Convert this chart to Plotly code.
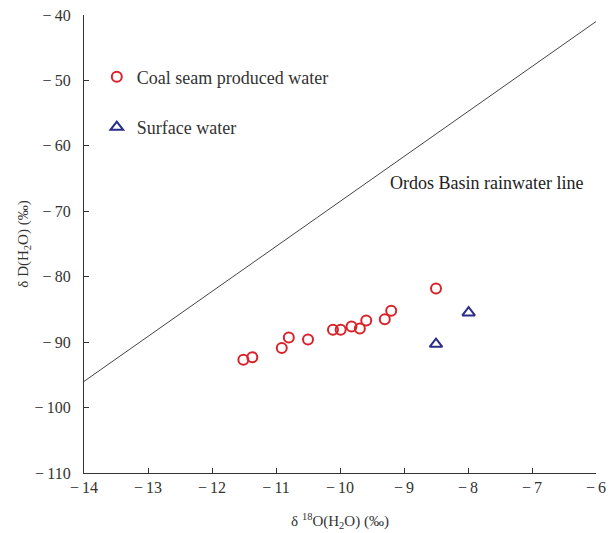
import plotly.graph_objects as go

# Data
coal_d18o = [-11.51, -11.37, -10.91, -10.80, -10.50, -10.11, -9.99, -9.82, -9.69, -9.59, -9.30, -9.20, -8.50]
coal_dd = [-92.7, -92.3, -90.9, -89.3, -89.6, -88.1, -88.1, -87.6, -87.9, -86.7, -86.5, -85.2, -81.8]

surf_d18o = [-8.50, -7.99]
surf_dd = [-90.3, -85.5]

rain_d18o = [-14, -6]
rain_dd = [-96.0, -41.0]

x_ticks = [-14, -13, -12, -11, -10, -9, -8, -7, -6]
y_ticks = [-40, -50, -60, -70, -80, -90, -100, -110]

FONT = "Liberation Serif"
AX = "#333333"

fig = go.Figure()
fig.add_trace(go.Scatter(
    x=rain_d18o, y=rain_dd, mode="lines",
    line=dict(color="#444444", width=1), showlegend=False, hoverinfo="skip"))
fig.add_trace(go.Scatter(
    x=coal_d18o, y=coal_dd, mode="markers", name="Coal seam produced water",
    legendgroup="a",
    marker=dict(symbol="circle-open", size=10, color="#d8232a", line=dict(width=2, color="#d8232a"))))
fig.add_trace(go.Scatter(
    x=surf_d18o, y=surf_dd, mode="markers", name="Surface water",
    legendgroup="b",
    marker=dict(symbol="triangle-up-open", size=11, color="#2a2d8a", line=dict(width=2, color="#2a2d8a"))))

fig.add_annotation(x=-9.25, y=-65.7, xref="x", yref="y", text="Ordos Basin rainwater line",
                   showarrow=False, xanchor="left", yanchor="middle",
                   font=dict(family=FONT, size=18, color="#222222"))

def fmt(v):
    return ("\u2212\u2009" + str(abs(v))) if v < 0 else str(v)

fig.update_xaxes(
    range=[-14, -6], tickvals=x_ticks, ticktext=[fmt(v) for v in x_ticks],
    showline=True, linecolor=AX, linewidth=1.2, ticks="inside", ticklen=5, tickcolor=AX,
    showgrid=False, zeroline=False, automargin=False,
    tickfont=dict(family=FONT, size=16, color="#333333"),
    title=dict(text="δ <sup>18</sup>O(H<sub>2</sub>O) (‰)", font=dict(family=FONT, size=15, color="#333333"), standoff=20))
fig.update_yaxes(
    range=[-110, -40], tickvals=y_ticks, ticktext=[fmt(v) for v in y_ticks],
    showline=True, linecolor=AX, linewidth=1.2, ticks="inside", ticklen=5, tickcolor=AX,
    showgrid=False, zeroline=False, ticklabelstandoff=9, automargin=False,
    tickfont=dict(family=FONT, size=16, color="#333333"),
    title=dict(text="δ D(H<sub>2</sub>O) (‰)", font=dict(family=FONT, size=15, color="#333333"), standoff=2))

fig.update_layout(
    width=611, height=533,
    margin=dict(l=84, r=15, t=15, b=60, autoexpand=False),
    plot_bgcolor="white", paper_bgcolor="white",
    legend=dict(x=0.025, y=0.905, xanchor="left", yanchor="top",
                font=dict(family=FONT, size=18, color="#333333"),
                tracegroupgap=24, traceorder="grouped", bgcolor="rgba(0,0,0,0)"),
)

fig.write_html("out.html")
